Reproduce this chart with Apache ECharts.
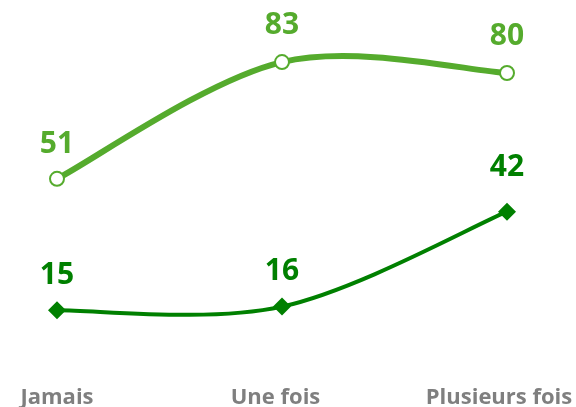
<!DOCTYPE html>
<html lang="fr">
<head>
  <meta charset="UTF-8">
  <title>Fréquence</title>
  <script src="https://cdn.jsdelivr.net/npm/echarts@6/dist/echarts.min.js"></script>
  <style>
    body { margin: 0; background: #fff; }
    #chart { width: 576px; height: 407px; }
  </style>
</head>
<body>
  <div id="chart"></div>
  <script>
    // données
    var categories = ['Jamais', 'Une fois', 'Plusieurs fois'];
    var serieHaut = [51, 83, 80];
    var serieBas = [15, 16, 42];

    var vertClair = '#55ab2d';
    var vertFonce = '#008000';
    var police = 'Open Sans';

    var chart = echarts.init(document.getElementById('chart'));

    // courbe lissée (type spline Catmull-Rom) tracée segment par segment
    function courbe(valeurs, couleur, epaisseur) {
      return {
        type: 'custom',
        coordinateSystem: 'cartesian2d',
        data: valeurs.map(function (v, i) { return [i, v]; }),
        encode: { x: 0, y: 1 },
        silent: true,
        z: 1,
        renderItem: function (params, api) {
          var i = params.dataIndex;
          var n = valeurs.length;
          if (i >= n - 1) return null;
          var p = valeurs.map(function (v, k) { return api.coord([k, v]); });
          var p0 = p[Math.max(i - 1, 0)], p1 = p[i], p2 = p[i + 1], p3 = p[Math.min(i + 2, n - 1)];
          var k = 1 / 6;
          return {
            type: 'bezierCurve',
            shape: {
              x1: p1[0], y1: p1[1],
              cpx1: p1[0] + (p2[0] - p0[0]) * k, cpy1: p1[1] + (p2[1] - p0[1]) * k,
              cpx2: p2[0] - (p3[0] - p1[0]) * k, cpy2: p2[1] - (p3[1] - p1[1]) * k,
              x2: p2[0], y2: p2[1]
            },
            style: { fill: null, stroke: couleur, lineWidth: epaisseur, lineCap: 'round' }
          };
        }
      };
    }

    function etiquette(couleur) {
      return {
        show: true,
        position: 'top',
        distance: 11,
        color: couleur,
        fontFamily: police,
        fontWeight: 'bold',
        fontSize: 30
      };
    }

    var axisRich = { fontFamily: police, fontWeight: 'bold', fontSize: 22, lineHeight: 22, color: '#7f7f7f' };
    var labelKeys = ['a', 'b', 'c'];

    var option = {
      animation: false,
      grid: { left: 57, right: 69, top: 0, bottom: 42, outerBoundsMode: 'none', containLabel: false },
      xAxis: {
        type: 'category',
        data: categories,
        boundaryGap: false,
        axisLine: { show: false },
        axisTick: { show: false },
        axisLabel: {
          margin: 22,
          formatter: function (v, i) { return '{' + labelKeys[i] + '|' + v + '}'; },
          rich: {
            a: axisRich,
            b: Object.assign({ padding: [0, 13, 0, 0] }, axisRich),
            c: Object.assign({ padding: [0, 16, 0, 0] }, axisRich)
          }
        }
      },
      yAxis: {
        type: 'value',
        min: 0,
        max: 100,
        show: false
      },
      series: [
        courbe(serieHaut, vertClair, 6),
        courbe(serieBas, vertFonce, 4),
        {
          type: 'line',
          z: 3,
          data: serieHaut.map(function (v, i) {
            return i > 0 ? { value: v, label: { distance: 14 } } : v;
          }),
          symbol: 'circle',
          symbolSize: 14,
          lineStyle: { opacity: 0 },
          itemStyle: { color: '#ffffff', borderColor: vertClair, borderWidth: 2 },
          label: etiquette(vertClair)
        },
        {
          type: 'line',
          z: 3,
          data: serieBas.map(function (v, i) {
            return i === 2 ? { value: v, label: { distance: 20 } } : v;
          }),
          symbol: 'diamond',
          symbolSize: 18,
          lineStyle: { opacity: 0 },
          itemStyle: { color: vertFonce },
          label: etiquette(vertFonce)
        }
      ]
    };

    chart.setOption(option);
  </script>
</body>
</html>
